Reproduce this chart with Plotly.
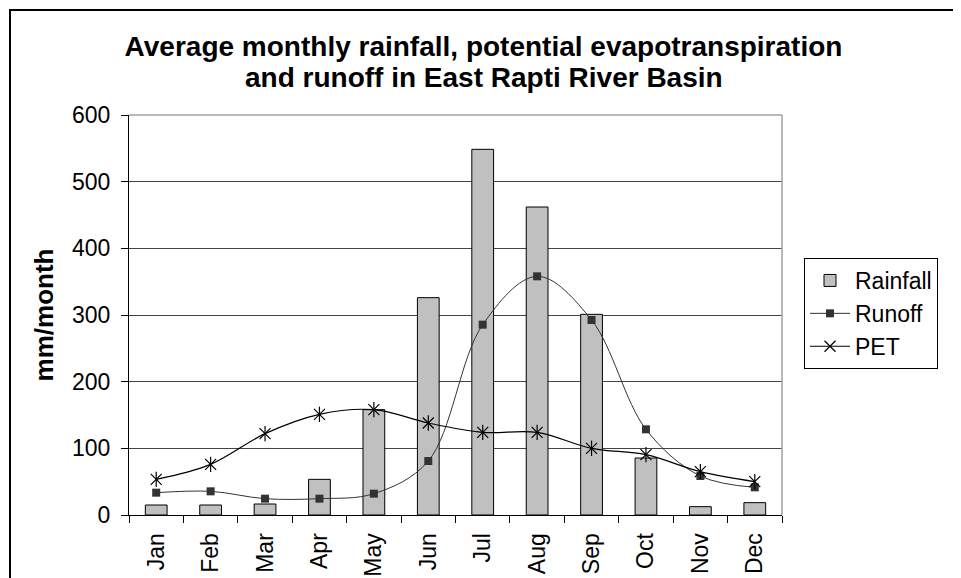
import plotly.graph_objects as go

months = ["Jan", "Feb", "Mar", "Apr", "May", "Jun", "Jul", "Aug", "Sep", "Oct", "Nov", "Dec"]
rainfall = [15, 15, 16.5, 53.5, 158, 326, 548.5, 462, 301, 85.5, 12.5, 18.5]
runoff = [33.5, 35.5, 24.5, 24.5, 32, 81, 285.5, 358, 292.5, 128.5, 58.5, 41.5]
pet = [53.5, 76, 122, 151, 158, 138, 124, 124, 100, 90.5, 65, 50]
y_ticks = [0, 100, 200, 300, 400, 500, 600]
title_line1 = "Average monthly rainfall, potential evapotranspiration"
title_line2 = "and runoff in East Rapti River Basin"

FONT = "Liberation Sans, Arial, sans-serif"
W, H = 953, 570  # page body has an 8px margin inside the 961x578 window

fig = go.Figure()
fig.add_trace(go.Bar(
    x=months, y=rainfall, name="Rainfall", width=0.4,
    marker=dict(color="#C0C0C0", line=dict(color="black", width=1)),
))
fig.add_trace(go.Scatter(
    x=months, y=runoff, name="Runoff", mode="lines+markers",
    line=dict(color="#333333", width=1, shape="spline"),
    marker=dict(symbol="square", size=8, color="#333333"),
))
fig.add_trace(go.Scatter(
    x=months, y=pet, name="PET", mode="lines+markers",
    line=dict(color="black", width=1.2, shape="spline"),
    marker=dict(symbol="x-thin-open", size=11, color="black", line=dict(color="black", width=1.2)),
))
fig.add_trace(go.Scatter(
    x=months, y=pet, mode="markers", showlegend=False, hoverinfo="skip",
    marker=dict(symbol="line-ns-open", size=11, color="black", line=dict(color="black", width=1.2)),
))

fig.update_layout(
    width=W, height=H,
    margin=dict(l=121, r=179, t=107, b=63, autoexpand=False),
    paper_bgcolor="white", plot_bgcolor="white",
    font=dict(family=FONT, color="black", size=23),
    title=dict(
        text="<b>" + title_line1 + "</b>",
        x=475.5 / W, xanchor="center", y=1 - 38 / H, yanchor="middle", yref="container",
        font=dict(size=28, family=FONT, color="black"),
    ),
    legend=dict(
        x=1.0337, xanchor="left", y=0.6425, yanchor="top",
        bordercolor="black", borderwidth=1, bgcolor="white",
        font=dict(size=23, family=FONT), itemwidth=40,
    ),
    showlegend=True,
)
fig.add_annotation(
    text="<b>" + title_line2 + "</b>", xref="paper", yref="paper",
    x=(475.5 - 121) / 653, y=(507 - 69) / 400, xanchor="center", yanchor="middle",
    showarrow=False, font=dict(size=28, family=FONT, color="black"),
)
fig.update_xaxes(
    type="category", range=[-0.5, 11.5], automargin=False,
    showline=True, linecolor="black", linewidth=1,
    ticks="outside", tickson="boundaries", ticklen=7, tickcolor="black",
    tickangle=-90, tickfont=dict(size=23), showgrid=False, ticklabelstandoff=8,
)
fig.update_yaxes(
    range=[0, 600], tickvals=y_ticks, automargin=False,
    showline=True, linecolor="black", linewidth=1,
    ticks="outside", ticklen=7, tickcolor="black",
    showgrid=True, gridcolor="#444444", gridwidth=1, zeroline=False,
    tickfont=dict(size=23), ticklabelstandoff=6,
    title=dict(text="<b>mm/month</b>", font=dict(size=26), standoff=10),
)
# plot area top/right border (gray) and outer chart frame
fig.add_shape(type="line", xref="paper", yref="paper", x0=0, x1=1, y0=1, y1=1,
              line=dict(color="#A0A0A0", width=1.5), layer="above")
fig.add_shape(type="line", xref="paper", yref="paper", x0=1, x1=1, y0=0, y1=1,
              line=dict(color="#A0A0A0", width=1.5), layer="above")
fig.add_shape(type="rect", xref="paper", yref="paper",
              x0=(2 - 121) / 653, x1=2.0, y0=-1.0, y1=(507 - 2) / 400,
              line=dict(color="black", width=2), fillcolor="rgba(0,0,0,0)", layer="below")

fig.write_html("out.html")
